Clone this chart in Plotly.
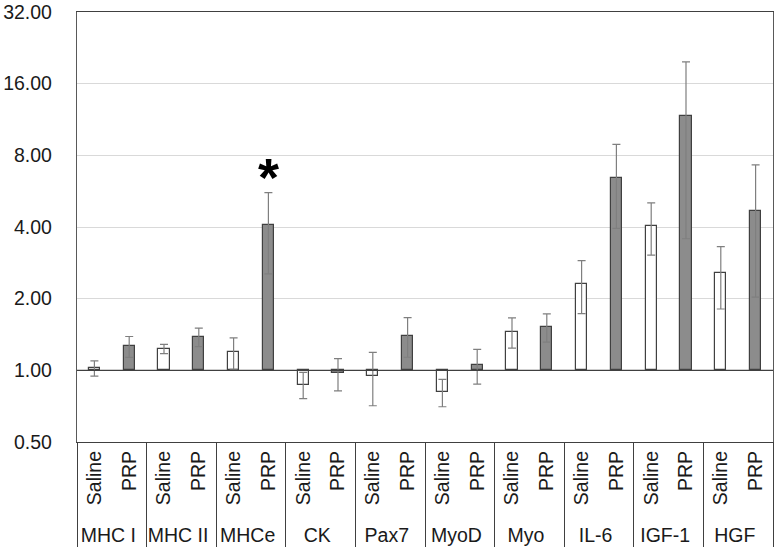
import plotly.graph_objects as go

groups = ["MHC I", "MHC II", "MHCe", "CK", "Pax7", "MyoD", "Myo", "IL-6", "IGF-1", "HGF"]
treatments = ["Saline", "PRP"]
saline_mean = [1.02, 1.23, 1.19, 0.87, 0.95, 0.81, 1.45, 2.31, 4.05, 2.56]
saline_sd = [0.075, 0.055, 0.18, 0.11, 0.24, 0.107, 0.21, 0.58, 1.0, 0.75]
prp_mean = [1.26, 1.38, 4.06, 0.97, 1.40, 1.05, 1.52, 6.42, 11.67, 4.66]
prp_sd = [0.127, 0.123, 1.52, 0.15, 0.265, 0.175, 0.207, 2.47, 8.1, 2.63]
significant = [("MHCe", "PRP")]
y_ticks = [0.5, 1, 2, 4, 8, 16, 32]
y_ticktext = ["0.50", "1.00", "2.00", "4.00", "8.00", "16.00", "32.00"]
baseline = 1.0

fill = {"Saline": "#ffffff", "PRP": "#8c8c8c"}

lvl1, lvl2, means, sds, colors = [], [], [], [], []
for i, g in enumerate(groups):
    for t, m, s in (("Saline", saline_mean[i], saline_sd[i]), ("PRP", prp_mean[i], prp_sd[i])):
        lvl1.append(g)
        lvl2.append(t)
        means.append(m)
        sds.append(s)
        colors.append(fill[t])

FONT = "Liberation Sans, Arial, sans-serif"

fig = go.Figure()
fig.add_trace(go.Bar(
    x=[lvl1, lvl2],
    y=[m - baseline for m in means],
    base=[baseline] * len(means),
    width=0.32,
    marker=dict(color=colors, line=dict(color="#404040", width=1.2)),
    showlegend=False,
    hoverinfo="skip",
))
fig.add_trace(go.Scatter(
    x=[lvl1, lvl2],
    y=means,
    mode="markers",
    marker=dict(size=1, opacity=0),
    error_y=dict(type="data", array=sds, symmetric=True, color="#7f7f7f", thickness=1.2, width=4),
    showlegend=False,
    hoverinfo="skip",
))
fig.add_trace(go.Scatter(
    x=[[g for g, t in significant], [t for g, t in significant]],
    y=[6.15],
    mode="text",
    text=["<b>*</b>"],
    textfont=dict(size=54, color="black", family=FONT),
    textposition="middle center",
    showlegend=False,
    hoverinfo="skip",
))

fig.add_hline(y=baseline, line=dict(color="#404040", width=1.3), layer="above")

fig.update_layout(
    width=777, height=556,
    margin=dict(l=77, r=4, t=12, b=114, autoexpand=False),
    paper_bgcolor="white", plot_bgcolor="white",
    font=dict(family=FONT, size=19.5, color="#1a1a1a"),
    bargap=0,
    showlegend=False,
)
fig.update_yaxes(
    type="log",
    range=[-0.30103, 1.50515],
    tickvals=y_ticks, ticktext=y_ticktext,
    showgrid=True, gridcolor="#d9d9d9", gridwidth=1,
    showline=True, linecolor="#595959", linewidth=1.3, mirror=True,
    ticks="outside", ticklen=20, tickcolor="rgba(0,0,0,0)",
    zeroline=False, automargin=False,
)
fig.update_xaxes(
    type="multicategory",
    range=[-0.5, len(lvl1) - 0.5],
    showline=True, linecolor="#404040", linewidth=1.3, mirror=True,
    tickangle=-90,
    showdividers=True, dividercolor="#404040", dividerwidth=1.3,
    ticks="outside", ticklen=13, tickcolor="rgba(0,0,0,0)",
    showgrid=False, automargin=False,
)

fig.write_html(
    "out.html",
    config={"displayModeBar": False},
    post_script="document.body.style.margin='0';document.body.style.overflow='hidden';",
)
